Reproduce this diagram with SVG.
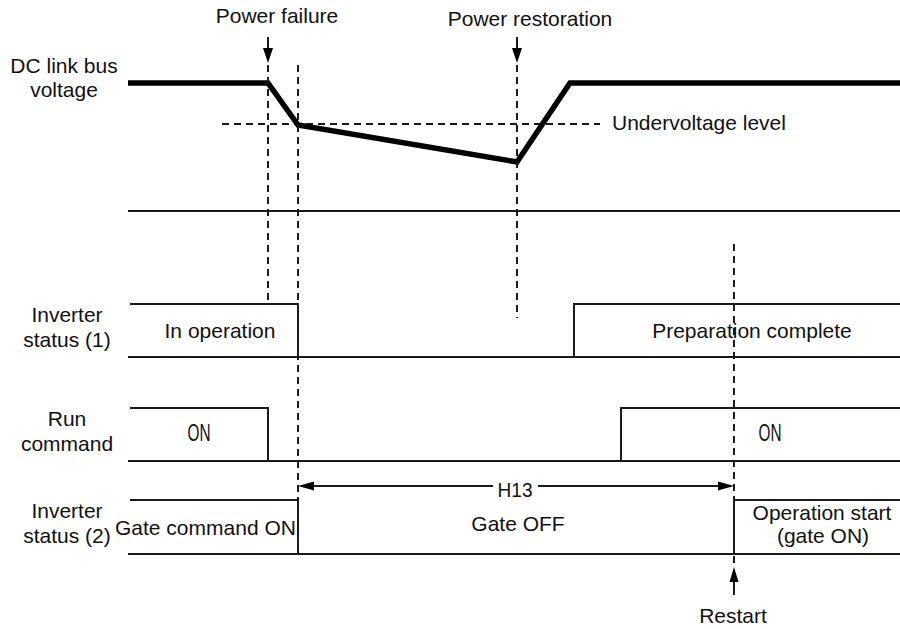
<svg xmlns="http://www.w3.org/2000/svg" width="900" height="629" viewBox="0 0 900 629">
<style>
text{font-family:"Liberation Sans",Arial,sans-serif;font-size:21px;fill:#111}
.m{text-anchor:middle}
.n{font-size:23.5px}
.ln{stroke:#1a1a1a;stroke-width:2;fill:none}
.th{stroke:#000;stroke-width:5.5;fill:none;stroke-linejoin:miter}
.d{stroke:#1a1a1a;stroke-width:2;fill:none;stroke-dasharray:7 5}
.ah{fill:#000}
</style>
<rect width="900" height="629" fill="#fff"/>
<g id="labels">
<text class="m" x="64" y="73">DC link bus</text>
<text class="m" x="64" y="97">voltage</text>
<text class="m" x="67" y="322">Inverter</text>
<text class="m" x="67" y="347">status (1)</text>
<text class="m" x="67" y="426">Run</text>
<text class="m" x="67" y="451">command</text>
<text class="m" x="67" y="518">Inverter</text>
<text class="m" x="67" y="543">status (2)</text>
</g>
<g id="dc-bus">
<line class="ln" x1="128" y1="211" x2="900" y2="211"/>
<line class="d" x1="222" y1="124" x2="600" y2="124"/>
<polyline class="th" points="128,83 268,83 298,125 517,162 570,83 900,83"/>
<text x="612" y="130">Undervoltage level</text>
</g>
<g id="power-failure">
<text class="m" x="277" y="23">Power failure</text>
<line class="ln" x1="268" y1="37" x2="268" y2="50"/>
<polygon class="ah" points="263,48 273,48 268,63"/>
</g>
<g id="power-restoration">
<text class="m" x="530" y="26">Power restoration</text>
<line class="ln" x1="517" y1="37" x2="517" y2="50"/>
<polygon class="ah" points="512,48 522,48 517,63"/>
</g>
<g id="connectors">
<line class="d" x1="268" y1="65" x2="268" y2="304"/>
<line class="d" x1="298" y1="65" x2="298" y2="500"/>
<line class="d" x1="517" y1="65" x2="517" y2="318"/>
<line class="d" x1="734" y1="244" x2="734" y2="565"/>
</g>
<g id="inverter-status-1">
<polyline class="ln" points="130,304 298,304 298,357"/>
<line class="ln" x1="128" y1="357" x2="900" y2="357"/>
<polyline class="ln" points="574,357 574,304 900,304"/>
<text class="m" x="220" y="338">In operation</text>
<text class="m" x="752" y="338">Preparation complete</text>
</g>
<g id="run-command">
<polyline class="ln" points="130,408 268,408 268,461"/>
<line class="ln" x1="128" y1="461" x2="900" y2="461"/>
<polyline class="ln" points="621,461 621,408 900,408"/>
<text class="m n" x="199" y="441" textLength="23" lengthAdjust="spacingAndGlyphs">ON</text>
<text class="m n" x="770" y="441" textLength="23" lengthAdjust="spacingAndGlyphs">ON</text>
</g>
<g id="h13">
<line class="ln" x1="310" y1="486" x2="493" y2="486"/>
<line class="ln" x1="538" y1="486" x2="722" y2="486"/>
<polygon class="ah" points="298,486 314,481.5 314,490.5"/>
<polygon class="ah" points="734,486 718,481.5 718,490.5"/>
<text class="m" x="515" y="497" style="font-size:21px" textLength="35" lengthAdjust="spacingAndGlyphs">H13</text>
</g>
<g id="inverter-status-2">
<polyline class="ln" points="130,500 298,500 298,554"/>
<line class="ln" x1="128" y1="554" x2="900" y2="554"/>
<polyline class="ln" points="734,554 734,500 900,500"/>
<text x="115" y="535">Gate command ON</text>
<text class="m" x="518" y="531">Gate OFF</text>
<text class="m" x="822" y="520">Operation start</text>
<text class="m" x="823" y="543">(gate ON)</text>
</g>
<g id="restart">
<line class="ln" x1="734" y1="578" x2="734" y2="595"/>
<polygon class="ah" points="729.5,582 738.5,582 734,567"/>
<text class="m" x="733" y="623">Restart</text>
</g>
</svg>
